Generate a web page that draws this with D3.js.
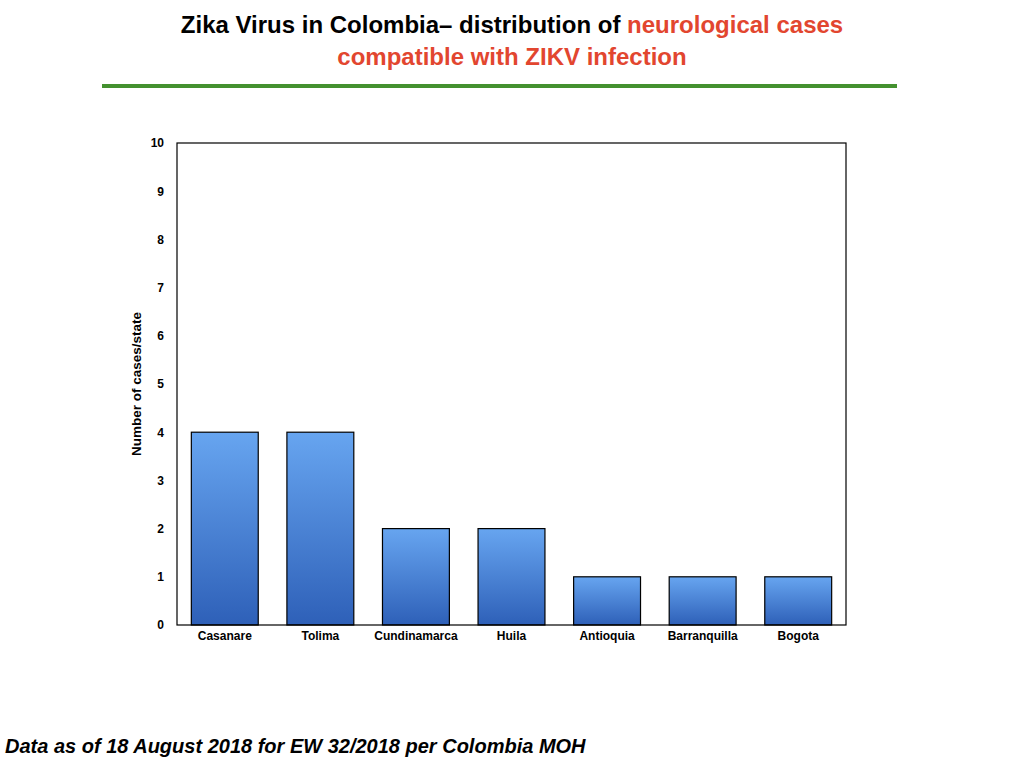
<!DOCTYPE html>
<html>
<head>
<meta charset="utf-8">
<script src="https://cdn.jsdelivr.net/npm/d3@7"></script>
<style>
  body { margin: 0; background: #fff; }
  svg { display: block; font-family: "Liberation Sans", Arial, Helvetica, sans-serif; }
</style>
</head>
<body>
<svg id="chart" width="1024" height="768"></svg>
<script>
// chart data
var states = ["Casanare", "Tolima", "Cundinamarca", "Huila", "Antioquia", "Barranquilla", "Bogota"];
var cases = [4, 4, 2, 2, 1, 1, 1];
var yTicks = [0, 1, 2, 3, 4, 5, 6, 7, 8, 9, 10];

//====================================================================

var svg = d3.select("#chart");

var plot = {left: 177, right: 846, top: 143, bottom: 625};

var x = d3.scaleBand()
    .domain(states)
    .range([plot.left, plot.right])
    .paddingInner(0.3)
    .paddingOuter(0.15);

var y = d3.scaleLinear()
    .domain([0, 10])
    .range([plot.bottom, plot.top]);

// gradient for the bars, light on top, dark at the bottom
var grad = svg.append("defs").append("linearGradient")
    .attr("id", "barGrad")
    .attr("x1", 0).attr("y1", 0).attr("x2", 0).attr("y2", 1);
grad.append("stop").attr("offset", "0%").attr("stop-color", "#67a5f0");
grad.append("stop").attr("offset", "100%").attr("stop-color", "#2e60b8");

// title
var title = svg.append("text")
    .attr("x", 512)
    .attr("y", 33)
    .attr("text-anchor", "middle")
    .style("font-size", "24px")
    .style("font-weight", "bold");
title.append("tspan").attr("fill", "#000").text("Zika Virus in Colombia\u2013  distribution of ");
title.append("tspan").attr("fill", "#e2462f").text("neurological cases");

svg.append("text")
    .attr("x", 512)
    .attr("y", 65)
    .attr("text-anchor", "middle")
    .attr("fill", "#e2462f")
    .style("font-size", "24px")
    .style("font-weight", "bold")
    .text("compatible with ZIKV infection");

svg.append("line")
    .attr("x1", 102).attr("x2", 897)
    .attr("y1", 86).attr("y2", 86)
    .attr("stroke", "#44912f")
    .attr("stroke-width", 4);

// bars
svg.selectAll("rect.bar")
    .data(states)
    .enter().append("rect")
    .attr("class", "bar")
    .attr("x", d => x(d))
    .attr("width", x.bandwidth())
    .attr("y", (d, i) => y(cases[i]))
    .attr("height", (d, i) => y(0) - y(cases[i]))
    .attr("fill", "url(#barGrad)")
    .attr("stroke", "#000")
    .attr("stroke-width", 1.2);

// frame around the plot
svg.append("rect")
    .attr("x", plot.left)
    .attr("y", plot.top)
    .attr("width", plot.right - plot.left)
    .attr("height", plot.bottom - plot.top)
    .attr("fill", "none")
    .attr("stroke", "#000")
    .attr("stroke-width", 1.2);

// y axis labels
var yAxis = svg.append("g")
    .attr("transform", `translate(${plot.left},0)`)
    .call(d3.axisLeft(y).tickValues(yTicks).tickSize(0).tickPadding(13));
yAxis.select(".domain").remove();
yAxis.selectAll("text")
    .style("font-size", "12px")
    .style("font-weight", "bold")
    .attr("fill", "#000");

// x axis labels
var xAxis = svg.append("g")
    .attr("transform", `translate(0,${plot.bottom})`)
    .call(d3.axisBottom(x).tickSize(0).tickPadding(6));
xAxis.select(".domain").remove();
xAxis.selectAll("text")
    .style("font-size", "12px")
    .style("font-weight", "bold")
    .attr("fill", "#000");

svg.append("text")
    .attr("transform", "translate(141,384) rotate(-90)")
    .attr("text-anchor", "middle")
    .style("font-size", "13.5px")
    .style("font-weight", "bold")
    .text("Number of cases/state");

// footer
svg.append("text")
    .attr("x", 5)
    .attr("y", 753)
    .style("font-size", "20px")
    .style("font-weight", "bold")
    .style("font-style", "italic")
    .text("Data as of 18 August 2018 for EW 32/2018 per Colombia MOH");
</script>
</body>
</html>
